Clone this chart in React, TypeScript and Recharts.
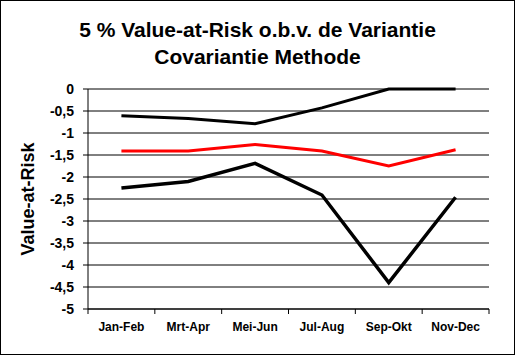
import React from "react";
import { LineChart, Line, XAxis, YAxis, CartesianGrid } from "recharts";

const periods = ["Jan-Feb", "Mrt-Apr", "Mei-Jun", "Jul-Aug", "Sep-Okt", "Nov-Dec"];
const upperVaR = [-0.61, -0.67, -0.79, -0.43, 0, 0];
const middleVaR = [-1.41, -1.41, -1.26, -1.41, -1.75, -1.38];
const lowerVaR = [-2.25, -2.1, -1.69, -2.41, -4.4, -2.46];
const yTicks = [0, -0.5, -1, -1.5, -2, -2.5, -3, -3.5, -4, -4.5, -5];

const data = periods.map((p, i) => ({
  period: p,
  upper: upperVaR[i],
  middle: middleVaR[i],
  lower: lowerVaR[i],
}));

const font = "'Liberation Sans', Arial, sans-serif";
const CHART_W = 513;
const MARGIN = { top: 88, right: 25, bottom: 15, left: 0 };
const Y_W = 87;
const BAND = (CHART_W - MARGIN.left - MARGIN.right - Y_W) / periods.length;

const fmt = (v: number) => String(v).replace(".", ",");

const PeriodTick = (props: any) => {
  const { x, y, payload, index } = props;
  const last = index === periods.length - 1;
  return (
    <g>
      <line x1={x - BAND / 2} x2={x - BAND / 2} y1={y} y2={y + 5} stroke="#000" />
      {last && <line x1={x + BAND / 2} x2={x + BAND / 2} y1={y} y2={y + 5} stroke="#000" />}
      <text
        x={x}
        y={y + 22}
        textAnchor="middle"
        fill="#000"
        fontSize={12}
        fontWeight="bold"
        fontFamily={font}
      >
        {payload.value}
      </text>
    </g>
  );
};

export default function App() {
  return (
    <div
      style={{
        position: "absolute",
        left: 0,
        top: 0,
        width: 515,
        height: 355,
        boxSizing: "border-box",
        border: "1px solid #000",
        background: "#fff",
        fontFamily: font,
      }}
    >
      <div
        style={{
          position: "absolute",
          left: 0,
          top: 15,
          width: 513,
          textAlign: "center",
          fontWeight: "bold",
          fontSize: 21,
          lineHeight: "27px",
          color: "#000",
        }}
      >
        5 % Value-at-Risk o.b.v. de Variantie
        <br />
        Covariantie Methode
      </div>
      <div
        style={{
          position: "absolute",
          left: 27,
          top: 198,
          transform: "translate(-50%, -50%) rotate(-90deg)",
          fontWeight: "bold",
          fontSize: 18,
          whiteSpace: "nowrap",
          color: "#000",
        }}
      >
        Value-at-Risk
      </div>
      <LineChart width={CHART_W} height={353} data={data} margin={MARGIN}>
        <CartesianGrid vertical={false} stroke="#000" strokeWidth={1} />
        <XAxis
          dataKey="period"
          scale="band"
          height={30}
          tickLine={false}
          tickSize={0}
          tickMargin={0}
          axisLine={{ stroke: "#000" }}
          tick={<PeriodTick />}
          interval={0}
        />
        <YAxis
          domain={[-5, 0]}
          ticks={yTicks}
          width={Y_W}
          tickSize={5}
          tickMargin={9}
          tickFormatter={fmt}
          tickLine={{ stroke: "#000" }}
          axisLine={{ stroke: "#000" }}
          tick={{ fill: "#000", fontSize: 14, fontWeight: "bold", fontFamily: font }}
          interval={0}
        />
        <YAxis
          yAxisId="frame"
          orientation="right"
          domain={[-5, 0]}
          width={0}
          tick={false}
          tickLine={false}
          axisLine={{ stroke: "#999" }}
        />
        <Line dataKey="upper" stroke="#000" strokeWidth={3} dot={false} isAnimationActive={false} />
        <Line dataKey="middle" stroke="#ff0000" strokeWidth={3} dot={false} isAnimationActive={false} />
        <Line dataKey="lower" stroke="#000" strokeWidth={3.5} dot={false} isAnimationActive={false} />
      </LineChart>
    </div>
  );
}
